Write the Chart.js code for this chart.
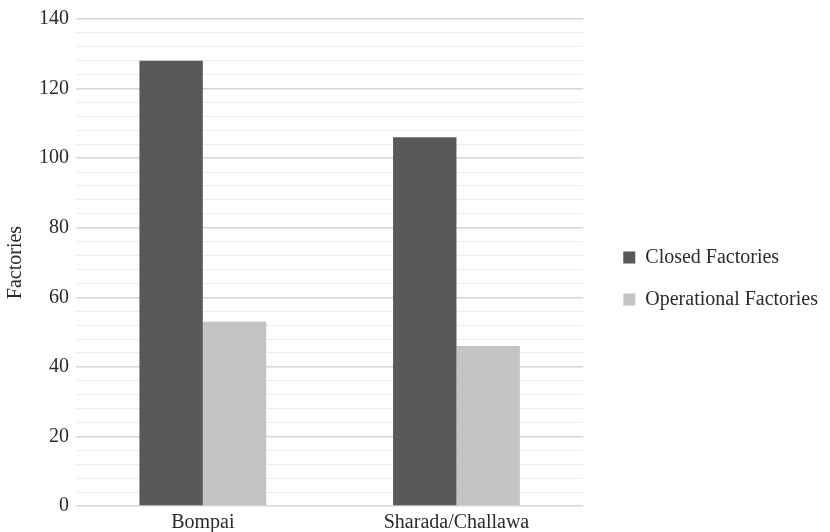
<!DOCTYPE html>
<html>
<head>
<meta charset="utf-8">
<script src="https://cdn.jsdelivr.net/npm/chart.js@4.4.1/dist/chart.umd.min.js"></script>
<style>
  html, body { margin: 0; padding: 0; background: #fff; }
  #wrap { width: 830px; height: 532px; position: relative; }
</style>
</head>
<body>
<div id="wrap"><canvas id="chart"></canvas></div>
<script>
const categories = ['Bompai', 'Sharada/Challawa'];
const closedFactories = [128, 106];
const operationalFactories = [53, 46];
const yMax = 140;
const yStep = 4;

const FONT = 'Liberation Serif';
const TEXT = '#2b2b2b';

new Chart(document.getElementById('chart'), {
    type: 'bar',
    data: {
        labels: categories,
        datasets: [
            { label: 'Closed Factories', data: closedFactories, backgroundColor: '#595959' },
            { label: 'Operational Factories', data: operationalFactories, backgroundColor: '#c4c4c4' }
        ]
    },
    options: {
        responsive: true,
        maintainAspectRatio: false,
        animation: false,
        layout: { padding: { top: 8, right: 2, bottom: -8, left: 0 } },
        datasets: {
            bar: { categoryPercentage: 0.5, barPercentage: 1.0 }
        },
        plugins: {
            tooltip: { enabled: false },
            legend: {
                position: 'right',
                maxWidth: 260,
                // empty title only nudges the items down a little
                title: {
                    display: true,
                    text: ' ',
                    font: { size: 6, lineHeight: 1 },
                    padding: 1.5
                },
                labels: {
                    font: { family: FONT, size: 20 },
                    color: TEXT,
                    boxWidth: 12,
                    boxHeight: 12,
                    padding: 22
                }
            }
        },
        scales: {
            x: {
                grid: { display: false, drawTicks: false },
                border: { display: false },
                ticks: {
                    font: { family: FONT, size: 20 },
                    color: TEXT,
                    padding: 5
                }
            },
            y: {
                min: 0,
                max: yMax,
                grid: {
                    drawTicks: false,
                    color: ctx => (ctx.tick && ctx.tick.value % 20 === 0) ? '#d6d6d6' : '#ededed',
                    lineWidth: ctx => (ctx.tick && ctx.tick.value % 20 === 0) ? 1.5 : 1
                },
                border: { display: false },
                ticks: {
                    stepSize: yStep,
                    autoSkip: false,
                    font: { family: FONT, size: 20 },
                    color: TEXT,
                    padding: 7,
                    callback: v => (v % 20 === 0 ? v : '')
                },
                title: {
                    display: true,
                    text: 'Factories',
                    font: { family: FONT, size: 20 },
                    color: TEXT,
                    padding: { top: 4, bottom: 4 }
                }
            },
            // spacer between plot area and legend
            gap: {
                position: 'right',
                display: true,
                grid: { display: false, drawTicks: false },
                border: { display: false },
                ticks: { display: false },
                afterFit: scale => { scale.width = 18; }
            }
        }
    }
});
</script>
</body>
</html>
